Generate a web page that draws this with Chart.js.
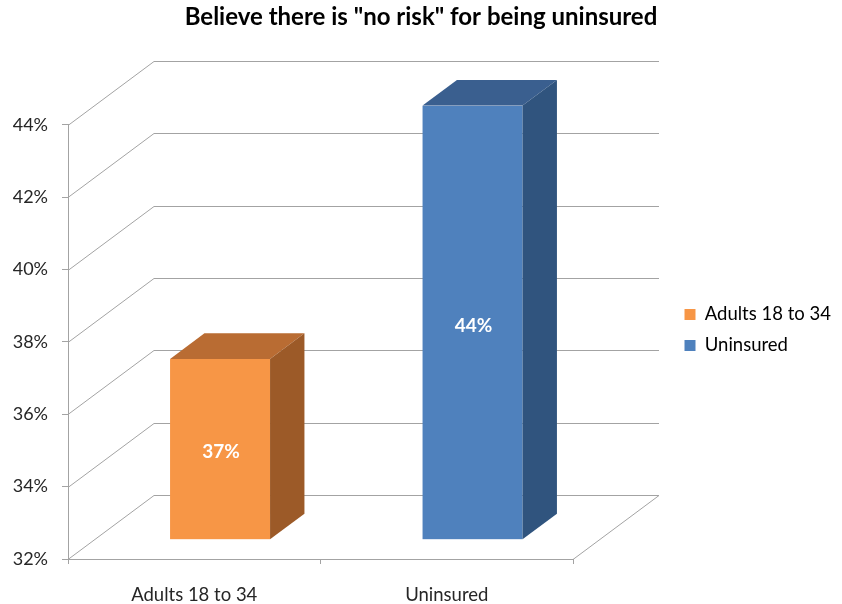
<!DOCTYPE html>
<html>
<head>
<meta charset="utf-8">
<script src="https://cdn.jsdelivr.net/npm/chart.js@4.4.1/dist/chart.umd.min.js"></script>
<style>
  html, body { margin: 0; padding: 0; background: #ffffff; }
  #wrap { width: 842px; height: 604px; }
</style>
</head>
<body>
<div id="wrap"><canvas id="c" width="842" height="604"></canvas></div>
<script>
// ---- data ----
const categories = ['Adults 18 to 34', 'Uninsured'];
const values = [37, 44];
const yTicks = [32, 34, 36, 38, 40, 42, 44];
const chartTitle = 'Believe there is "no risk" for being uninsured';

// ---- styling ----
const frontColors = ['#F79646', '#4F81BD'];
const topColors = ['#B96C33', '#3A5F8F'];
const sideColors = ['#9C5A28', '#30547E'];
const FONT = 'Lato, "Liberation Sans", sans-serif';
const TEXT = '#262626';
const GRID = '#a3a3a3';
const DEPTH = { dx: 86, dy: -64 };      // front plane -> back wall offset
const BAR_FRONT = 0.3, BAR_BACK = 0.7;  // bars occupy the middle slab of the depth
const AREA_RIGHT = 573;                 // right edge of the front plane
const LEGEND_X = 672;                   // left edge of legend block

// walls, floor, 3D bar faces and value labels
const box3d = {
  id: 'box3d',
  beforeLayout(chart) {
    const lg = chart.legend;
    if (lg && !lg._fixedWidth) {
      const fit = lg.fit.bind(lg);
      lg.fit = function () { fit(); this.width = chart.width - AREA_RIGHT; };
      lg._fixedWidth = true;
    }
  },
  afterLayout(chart) {
    const lg = chart.legend;
    if (lg) {
      const w = lg.right - LEGEND_X;
      lg.left = LEGEND_X; lg.width = w;
      lg.top += 28; lg.bottom += 28;
    }
  },
  beforeDatasetsDraw(chart) {
    const { ctx, chartArea: a, scales: { y } } = chart;
    ctx.save();
    ctx.strokeStyle = GRID;
    ctx.lineWidth = 1;
    ctx.beginPath();
    yTicks.forEach(t => {
      const py = Math.round(y.getPixelForValue(t)) + 0.5;
      ctx.moveTo(a.left, py);
      ctx.lineTo(a.left + DEPTH.dx, py + DEPTH.dy);
      ctx.lineTo(a.right + DEPTH.dx, py + DEPTH.dy);
    });
    const fy = Math.round(y.getPixelForValue(yTicks[0])) + 0.5;
    ctx.moveTo(a.right, fy);
    ctx.lineTo(a.right + DEPTH.dx, fy + DEPTH.dy);
    ctx.stroke();
    ctx.restore();
    // push the bars' front faces back into the box
    ctx.save();
    ctx.translate(DEPTH.dx * BAR_FRONT, DEPTH.dy * BAR_FRONT);
  },
  afterDatasetsDraw(chart) {
    const { ctx } = chart;
    ctx.restore();
    const meta = chart.getDatasetMeta(0);
    const ox = DEPTH.dx * BAR_FRONT, oy = DEPTH.dy * BAR_FRONT;
    const bx = DEPTH.dx * (BAR_BACK - BAR_FRONT), by = DEPTH.dy * (BAR_BACK - BAR_FRONT);
    ctx.save();
    meta.data.forEach((bar, i) => {
      const { x, y, base, width } = bar.getProps(['x', 'y', 'base', 'width'], true);
      const L = x - width / 2 + ox, R = x + width / 2 + ox;
      const T = y + oy, B = base + oy;
      ctx.fillStyle = topColors[i];
      ctx.beginPath();
      ctx.moveTo(L, T); ctx.lineTo(R, T); ctx.lineTo(R + bx, T + by); ctx.lineTo(L + bx, T + by);
      ctx.closePath(); ctx.fill();
      ctx.fillStyle = sideColors[i];
      ctx.beginPath();
      ctx.moveTo(R, T); ctx.lineTo(R + bx, T + by); ctx.lineTo(R + bx, B + by); ctx.lineTo(R, B);
      ctx.closePath(); ctx.fill();
      ctx.fillStyle = '#ffffff';
      ctx.font = 'bold 19px ' + FONT;
      ctx.textAlign = 'center';
      ctx.textBaseline = 'middle';
      ctx.fillText(values[i] + '%', (L + R) / 2 + 1, (T + B) / 2 + 3);
    });
    ctx.restore();
  }
};

new Chart(document.getElementById('c'), {
  type: 'bar',
  data: {
    labels: categories,
    datasets: [{
      data: values,
      base: yTicks[0],
      backgroundColor: frontColors,
      borderWidth: 0,
      barPercentage: 0.396,
      categoryPercentage: 1
    }]
  },
  options: {
    responsive: false,
    animation: false,
    events: [],
    layout: { padding: 0 },
    scales: {
      x: {
        grid: { display: true, drawOnChartArea: false, drawTicks: true, tickLength: 5, color: GRID, offset: true },
        border: { display: true, color: GRID },
        ticks: { color: TEXT, font: { family: FONT, size: 18.5 }, padding: 20, maxRotation: 0 },
        afterFit(s) { s.height = 45; }
      },
      y: {
        min: yTicks[0],
        max: yTicks[yTicks.length - 1],
        grid: { display: true, drawOnChartArea: false, drawTicks: true, tickLength: 6, color: GRID },
        border: { display: true, color: GRID },
        afterBuildTicks(s) { s.ticks = yTicks.map(v => ({ value: v })); },
        ticks: { color: TEXT, font: { family: FONT, size: 18 }, padding: 14, callback: v => v + '%' },
        afterFit(s) { s.width = 68; }
      }
    },
    plugins: {
      title: {
        display: true,
        text: chartTitle,
        color: '#000000',
        font: { family: FONT, size: 24, weight: 'bold' },
        padding: { top: 3, bottom: 93 }
      },
      legend: {
        display: true,
        position: 'right',
        align: 'center',
        labels: {
          boxWidth: 11,
          boxHeight: 11,
          padding: 12.5,
          color: TEXT,
          font: { family: FONT, size: 18.5 },
          generateLabels: () => categories.map((c, i) => ({
            text: c, fillStyle: frontColors[i], strokeStyle: frontColors[i],
            lineWidth: 0, hidden: false, index: i
          }))
        }
      },
      tooltip: { enabled: false }
    }
  },
  plugins: [box3d]
});
</script>
</body>
</html>
